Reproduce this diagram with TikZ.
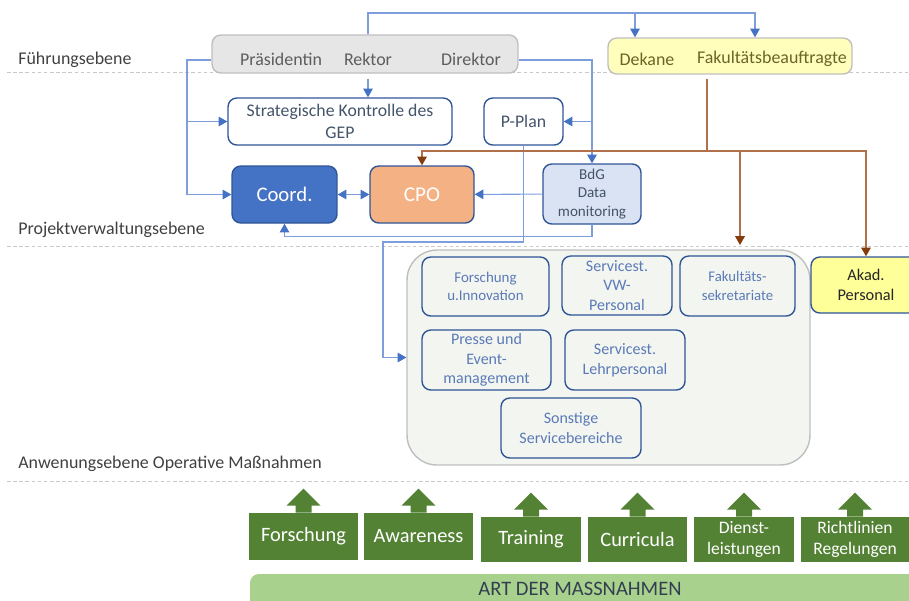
\documentclass[tikz,border=0pt]{standalone}
\usepackage{fontspec}
\setmainfont{Carlito}
\usepackage{xcolor}
\usetikzlibrary{arrows.meta,calc}

\definecolor{lanetxt}{HTML}{404040}
\definecolor{lanegray}{HTML}{C8C8C8}
\definecolor{bord}{HTML}{2F5597}
\definecolor{slate}{HTML}{44546A}
\definecolor{softblue}{HTML}{5A7AB8}
\definecolor{lnblue}{HTML}{7D9EDB}
\definecolor{arblue}{HTML}{4472C4}
\definecolor{lnbrown}{HTML}{B0714A}
\definecolor{arbrown}{HTML}{843C0C}
\definecolor{coordfill}{HTML}{4472C4}
\definecolor{cpofill}{HTML}{F4B183}
\definecolor{bdgfill}{HTML}{DAE3F3}
\definecolor{leadfill}{HTML}{E7E6E6}
\definecolor{leadbord}{HTML}{BFBFBF}
\definecolor{facfill}{HTML}{FFFFBB}
\definecolor{factxt}{HTML}{6B6526}
\definecolor{akadfill}{HTML}{FFFF99}
\definecolor{poolfill}{HTML}{F3F5F0}
\definecolor{grn}{HTML}{548235}
\definecolor{barfill}{HTML}{A9D18E}
\definecolor{bartxt}{HTML}{333F50}

\tikzset{
  ar/.tip={Triangle[width=5.5pt,length=5pt,color=arblue]},
  arb/.tip={Triangle[width=5.5pt,length=5pt,color=arbrown]},
  link/.style={draw=lnblue, line width=0.6pt},
  brn/.style={draw=lnbrown, line width=0.6pt},
  lane/.style={draw=lanegray, line width=0.5pt, dash pattern=on 2pt off 1.5pt},
  lanelbl/.style={anchor=base west, text=lanetxt, inner sep=0pt, font=\fontsize{10.2}{12}\selectfont},
  box/.style={draw=bord, line width=0.8pt, rounded corners=5pt, align=center, inner sep=1pt,
    font=\fontsize{10.1}{12.2}\selectfont},
  svc/.style={box, fill=poolfill, text=softblue, font=\fontsize{9.1}{11.2}\selectfont},
  grbox/.style={fill=grn, text=white, align=center, inner sep=1pt, font=\fontsize{11.6}{13}\selectfont}
}

\begin{document}
\begin{tikzpicture}[x=0.02cm, y=-0.02cm]
\useasboundingbox (0,0) rectangle (909,600);

\foreach \ly/\lb/\lt in {72.5/64/Führungsebene, 246/234/Projektverwaltungsebene,
    481/468/Anwenungsebene Operative Maßnahmen}{
  \draw[lane] (7,\ly) -- (909,\ly);
  \node[lanelbl] at (18,\lb) {\lt};
}

\node[draw=leadbord, fill=leadfill, line width=0.8pt, rounded corners=5pt,
  minimum width=6.12cm, minimum height=0.76cm] (lead) at (365,54) {};
\node[text=lanetxt!85, font=\fontsize{10.2}{12}\selectfont] (praes) at (281,59) {Präsidentin};
\node[text=lanetxt!85, font=\fontsize{10.2}{12}\selectfont] (rektor) at (368,59) {Rektor};
\node[text=lanetxt!85, font=\fontsize{10.2}{12}\selectfont] (dir) at (471,59) {Direktor};

\node[draw=leadbord, fill=facfill, line width=0.8pt, rounded corners=5pt,
  minimum width=4.88cm, minimum height=0.72cm] (fac) at (730,56) {};
\node[text=factxt, font=\fontsize{10.2}{12}\selectfont] (dek) at (647,59) {Dekane};
\node[text=factxt, font=\fontsize{10.2}{12}\selectfont] (fb) at (772,59) {Fakultätsbeauftragte};

\node[box, text=slate, minimum width=4.48cm, minimum height=0.94cm] (gep) at (340,121.5)
  {Strategische Kontrolle des\\GEP};
\node[box, text=slate, minimum width=1.58cm, minimum height=0.94cm] (pplan) at (523.5,121.5) {P-Plan};

\node[box, fill=coordfill, text=white, minimum width=2.1cm, minimum height=1.14cm,
  font=\fontsize{11.8}{14}\selectfont] (coord) at (284.5,194.5) {Coord.};
\node[box, fill=cpofill, text=white, minimum width=2.08cm, minimum height=1.14cm,
  font=\fontsize{12}{14}\selectfont] (cpo) at (422,194.5) {CPO};
\node[box, fill=bdgfill, text=slate, minimum width=1.96cm, minimum height=1.2cm,
  font=\fontsize{8.6}{10.4}\selectfont] (bdg) at (592,194) {BdG\\Data\\monitoring};

\node[draw=leadbord, fill=poolfill, line width=0.8pt, rounded corners=17pt,
  minimum width=8.06cm, minimum height=4.3cm] (pool) at (608.5,357.5) {};
\node[svc, minimum width=2.54cm, minimum height=1.18cm, font=\fontsize{8.5}{10.4}\selectfont]
  (forsch) at (485.5,286.5) {Forschung\\u.Innovation};
\node[svc, minimum width=2.2cm, minimum height=1.18cm] (svw) at (617,285.5) {Servicest.\\VW-\\Personal};
\node[svc, minimum width=2.3cm, minimum height=1.2cm, font=\fontsize{8.4}{10.4}\selectfont]
  (fak) at (737.5,286) {Fakultäts-\\sekretariate};
\node[svc, minimum width=2.58cm, minimum height=1.2cm] (presse) at (486.5,360) {Presse und\\Event-\\management};
\node[svc, minimum width=2.4cm, minimum height=1.2cm] (slehr) at (625,360) {Servicest.\\Lehrpersonal};
\node[svc, minimum width=2.8cm, minimum height=1.2cm] (sonst) at (571,428) {Sonstige\\Servicebereiche};

\node[box, fill=akadfill, text=black!85, minimum width=2.2cm, minimum height=1.12cm,
  font=\fontsize{9.3}{11.4}\selectfont] (akad) at (866,285) {Akad.\\Personal};

\coordinate (bus) at (755,13);
\coordinate (dk) at (635,13);
\coordinate (lx) at (187,60);
\coordinate (pb) at (383,242);
\coordinate (bj) at (707,151);
\coordinate (fk) at (740,245);

\draw[link,-ar] (rektor |- lead.north) |- (bus) -- (bus |- fac.north);
\draw[link,-ar] (dk) -- (dk |- fac.north);
\draw[link] (lead.west |- lx) -- (lx) -- (lx |- coord);
\draw[link,-ar] (lx |- gep) -- (gep.west);
\draw[link,-ar] (lx |- coord) -- (coord.west);
\draw[link,-ar] ([yshift=-2.8pt]rektor |- lead.south) -- (rektor |- gep.north);
\draw[link,-ar] (lead.east |- lx) -| (bdg.north);
\draw[link,-ar] (bdg.north |- pplan) -- (pplan.east);
\draw[link,ar-ar] (coord) -- (cpo);
\draw[link,-ar] (bdg) -- (cpo);
\draw[link,-ar] (bdg.south) -- ++(0,12) -| (coord.south);
\draw[link,-ar] (pplan.south) |- (pb) |- (pool.west);

\draw[brn] ([yshift=-2.3pt]fac.south -| bj) -- (bj);
\draw[brn,-arb] (bj) -| (cpo.north);
\draw[brn,-arb] (bj) -| (akad.north);
\draw[brn,-arb] (bj -| fk) -- (fk);

\node[grbox, minimum width=2.18cm, minimum height=0.94cm] (g1) at (303.5,536.5) {Forschung};
\node[grbox, minimum width=2.18cm, minimum height=0.94cm] (g2) at (418.5,536.5) {Awareness};
\node[grbox, minimum width=2.0cm, minimum height=0.9cm] (g3) at (531,539.5) {Training};
\node[grbox, minimum width=1.98cm, minimum height=0.9cm] (g4) at (637.5,539.5) {Curricula};
\node[grbox, minimum width=2.0cm, minimum height=0.9cm, font=\fontsize{10}{12}\selectfont]
  (g5) at (744,539.5) {Dienst-\\leistungen};
\node[grbox, minimum width=2.16cm, minimum height=0.9cm, font=\fontsize{10}{12}\selectfont]
  (g6) at (855,539.5) {Richtlinien\\Regelungen};
\foreach \g in {g1,g2,g3,g4,g5,g6}
  \fill[grn] (\g.north) ++(-8,0) -- ++(0,-7) -- ++(-9,0) -- ++(17,-17) -- ++(17,17)
    -- ++(-9,0) -- ++(0,7) -- cycle;

\fill[barfill, rounded corners=5pt] (250,574) rectangle (940,630);
\node[text=bartxt, font=\fontsize{11.7}{14}\selectfont] (art) at (580,589) {ART DER MASSNAHMEN};
\end{tikzpicture}
\end{document}
